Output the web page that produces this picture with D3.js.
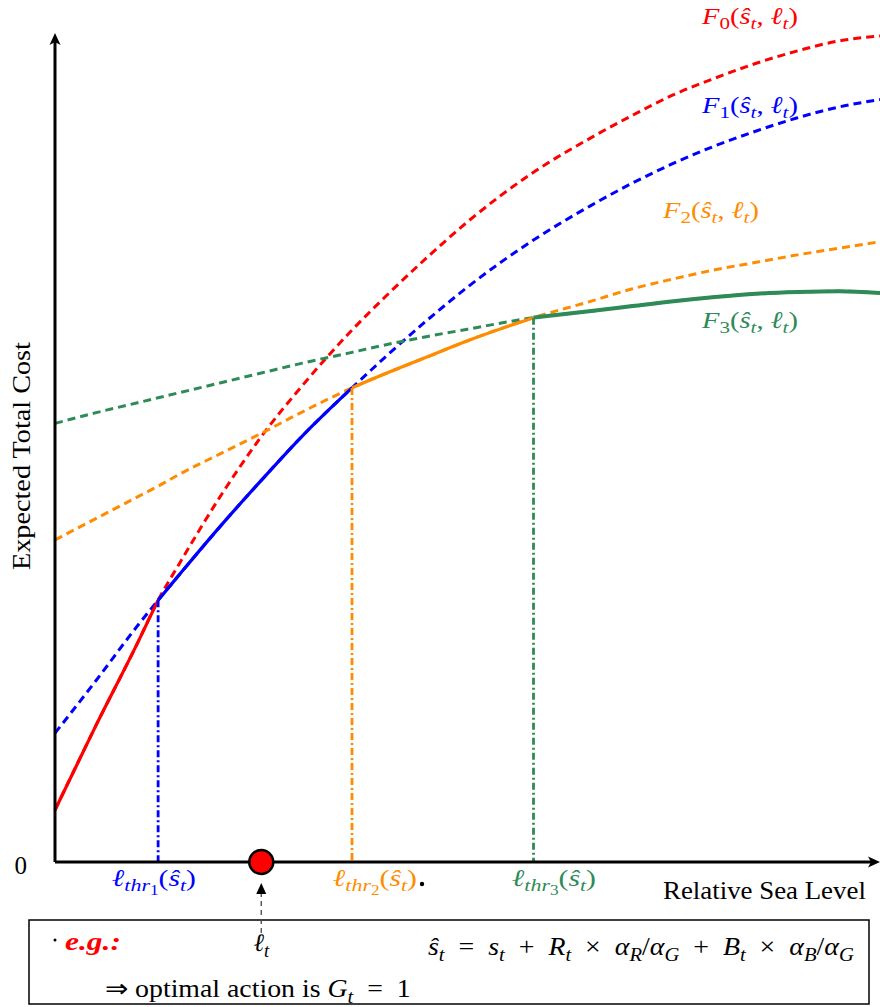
<!DOCTYPE html>
<html>
<head>
<meta charset="utf-8">
<script src="https://cdn.jsdelivr.net/npm/d3@7"></script>
<style>
body { margin: 0; background: #fff; }
</style>
</head>
<body>
<div id="chart"></div>
<script>
// relative sea level (x) and expected total cost of each policy F0..F3 (y)
var seaLevel = [0, 0.5, 1, 1.25, 1.5, 2, 2.5, 3, 3.6, 4, 4.5, 5, 5.8, 6.5, 7, 7.5, 8, 8.5, 9, 9.5, 10];
var costF0 = [0.63, 1.66, 2.65, 3.17, 3.60, 4.42, 5.15, 5.77, 6.44, 6.84, 7.31, 7.75, 8.35, 8.77, 9.04, 9.29, 9.49, 9.67, 9.82, 9.94, 10.0];
var costF1 = [1.56, 2.20, 2.86, 3.17, 3.47, 4.06, 4.62, 5.16, 5.74, 6.11, 6.55, 6.96, 7.53, 7.95, 8.22, 8.46, 8.67, 8.85, 9.01, 9.14, 9.23];
var costF2 = [3.90, 4.16, 4.42, 4.55, 4.69, 4.94, 5.19, 5.45, 5.74, 5.91, 6.11, 6.31, 6.59, 6.79, 6.94, 7.06, 7.17, 7.26, 7.35, 7.43, 7.51];
var costF3 = [5.31, 5.44, 5.56, 5.62, 5.68, 5.80, 5.92, 6.04, 6.17, 6.26, 6.36, 6.45, 6.59, 6.67, 6.73, 6.79, 6.84, 6.88, 6.90, 6.91, 6.89];
var thresholds = [1.25, 3.6, 5.8];   // l_thr1, l_thr2, l_thr3
var currentLevel = 2.5;              // l_t

var curves = [costF0, costF1, costF2, costF3];
var colors = ["#ff0000", "#0000ff", "#ff8c00", "#2e8b57"];

var width = 880, height = 1007;
var serif = "Liberation Serif";
var sp = "\u2002"; // en space round operators

var svg = d3.select("#chart").append("svg")
  .attr("width", width)
  .attr("height", height)
  .attr("font-family", serif);

var xScale = d3.scaleLinear().domain([0, 10]).range([55, 880]);
var yScale = d3.scaleLinear().domain([0, 10]).range([862, 36]);

var line = d3.line()
  .x(function(d) { return xScale(d[0]); })
  .y(function(d) { return yScale(d[1]); })
  .curve(d3.curveMonotoneX);

// small helper for latex-ish labels: parts = [[text, "i"|"i1"|"1"|"2"...], ...]
function mathText(g, x, y, parts, size, color, anchor) {
  var t = g.append("text")
    .attr("x", x)
    .attr("y", y)
    .attr("font-size", size)
    .attr("fill", color)
    .attr("text-anchor", anchor || "start");
  var shift = 0;
  parts.forEach(function(p) {
    var fmt = p[1] || "";
    var lvl = +(fmt.replace("i", "") || 0);
    var target = [0, 0.22, 0.36][lvl] * size;
    t.append("tspan")
      .attr("dy", target - shift)
      .attr("font-size", [1, 0.74, 0.58][lvl] * size)
      .attr("font-style", fmt.indexOf("i") >= 0 ? "italic" : null)
      .text(p[0]);
    shift = target;
  });
  return t;
}

// widen a label to the width of the latex original (horizontal scale, keeps the font)
function fit(t, target, pre) {
  var len = t.node().getComputedTextLength();
  var x = +t.attr("x"), y = +t.attr("y");
  t.attr("x", 0).attr("y", 0)
    .attr("transform", "translate(" + x + "," + y + ")" + (pre || "") + " scale(" + (target / len) + ",1)");
  return t;
}

//Dashed cost curves
curves.forEach(function(c, i) {
  svg.append("path")
    .attr("d", line(seaLevel.map(function(x, j) { return [x, c[j]]; })))
    .attr("fill", "none")
    .attr("stroke", colors[i])
    .attr("stroke-width", 3)
    .attr("stroke-dasharray", "8,5");
});

//Solid lower envelope (optimal action between thresholds)
var bounds = [0].concat(thresholds).concat([10]);
curves.forEach(function(c, i) {
  var pts = seaLevel.map(function(x, j) { return [x, c[j]]; })
    .filter(function(d) { return d[0] >= bounds[i] && d[0] <= bounds[i + 1]; });
  svg.append("path")
    .attr("d", line(pts))
    .attr("fill", "none")
    .attr("stroke", colors[i])
    .attr("stroke-width", i == 3 ? 4 : 3.2);
});

//Vertical dash-dot threshold lines
thresholds.forEach(function(t, i) {
  var j = seaLevel.indexOf(t);
  svg.append("line")
    .attr("x1", xScale(t)).attr("x2", xScale(t))
    .attr("y1", yScale(curves[i + 1][j])).attr("y2", yScale(0))
    .attr("stroke", colors[i + 1])
    .attr("stroke-width", 2.8)
    .attr("stroke-dasharray", "7,3,2,3");
});

//Axes
var xAxis = svg.append("g")
  .attr("transform", "translate(0," + yScale(0) + ")")
  .call(d3.axisBottom(xScale).tickValues([]).tickSizeOuter(0));
xAxis.select(".domain").attr("stroke-width", 3).attr("d", "M" + xScale(0) + ",0H" + (xScale(10) - 6));

var yAxis = svg.append("g")
  .attr("transform", "translate(" + xScale(0) + ",0)")
  .call(d3.axisLeft(yScale).tickValues([0]).tickSize(0).tickPadding(28).tickSizeOuter(0));
yAxis.select(".domain").attr("stroke-width", 3).attr("d", "M0," + yScale(0) + "V" + (yScale(10) - 3 + 6));
yAxis.attr("font-family", serif);
yAxis.selectAll(".tick text")
  .attr("font-size", 25)
  .attr("dy", "0.45em")
  .attr("fill", "#000");

//Arrow heads
var arrow = "M0,0 L-12,-5.5 L-9,0 L-12,5.5 Z";
svg.append("path").attr("d", arrow)
  .attr("transform", "translate(880," + yScale(0) + ")");
svg.append("path").attr("d", arrow)
  .attr("transform", "translate(" + xScale(0) + "," + (yScale(10) - 3) + ") rotate(-90)");

//Axis titles
fit(svg.append("text")
  .attr("x", 663).attr("y", 899)
  .attr("font-size", 25)
  .text("Relative Sea Level"), 203);

fit(svg.append("text")
  .attr("x", 30).attr("y", 570)
  .attr("font-size", 25)
  .text("Expected Total Cost"), 228, " rotate(-90)");

//Curve labels
var fLabels = [[702, 24], [702, 113], [663, 218], [702, 328]];
fLabels.forEach(function(p, i) {
  fit(mathText(svg, p[0], p[1], [["F", "i"], ["" + i, "1"], ["("], ["ŝ", "i"], ["t", "i1"], [", "], ["ℓ", "i"], ["t", "i1"], [")"]], 24, colors[i]), 96);
});

//Threshold labels
var thrStarts = [112, 333, 512];
thresholds.forEach(function(t, i) {
  fit(mathText(svg, thrStarts[i], 886,
    [["ℓ", "i"], ["thr", "i1"], ["" + (i + 1), "2"], ["("], ["ŝ", "i"], ["t", "i1"], [")"]], 24, colors[i + 1]), 84);
});
svg.append("circle").attr("cx", thrStarts[1] + 84 + 5).attr("cy", 884).attr("r", 2.2).attr("fill", "#000");

//Current level marker
svg.append("circle")
  .attr("cx", xScale(currentLevel)).attr("cy", yScale(0))
  .attr("r", 12)
  .attr("fill", "#ff0000")
  .attr("stroke", "#000")
  .attr("stroke-width", 2.5);

//Example box
svg.append("rect")
  .attr("x", 29).attr("y", 920)
  .attr("width", 840).attr("height", 84)
  .attr("fill", "none")
  .attr("stroke", "#000")
  .attr("stroke-width", 1.5);

var lx = xScale(currentLevel);
svg.append("line")
  .attr("x1", lx).attr("x2", lx)
  .attr("y1", 933).attr("y2", 893)
  .attr("stroke", "#444")
  .attr("stroke-width", 1.3)
  .attr("stroke-dasharray", "5,4");
svg.append("path").attr("d", "M0,0 L-5,11 L5,11 Z")
  .attr("fill", "#000")
  .attr("transform", "translate(" + lx + ",883)");

mathText(svg, lx, 951, [["ℓ", "i"], ["t", "i1"]], 25, "#000", "middle");

svg.append("circle").attr("cx", 55).attr("cy", 940).attr("r", 1.5).attr("fill", "#000");
fit(svg.append("text")
  .attr("x", 65).attr("y", 950)
  .attr("font-size", 25)
  .attr("font-weight", "bold")
  .attr("font-style", "italic")
  .attr("fill", "#ff0000")
  .text("e.g.:"), 56);

fit(mathText(svg, 428, 955,
  [["ŝ", "i"], ["t", "i1"], [sp + "=" + sp], ["s", "i"], ["t", "i1"], [sp + "+" + sp], ["R", "i"], ["t", "i1"], [sp + "×" + sp],
   ["α", "i"], ["R", "i1"], ["/"], ["α", "i"], ["G", "i1"], [sp + "+" + sp], ["B", "i"], ["t", "i1"], [sp + "×" + sp],
   ["α", "i"], ["B", "i1"], ["/"], ["α", "i"], ["G", "i1"]], 25, "#000"), 426);

fit(mathText(svg, 105, 997, [["⇒ optimal action is "], ["G", "i"], ["t", "i1"], [sp + "=" + sp + "1"]], 25, "#000"), 306);
</script>
</body>
</html>
